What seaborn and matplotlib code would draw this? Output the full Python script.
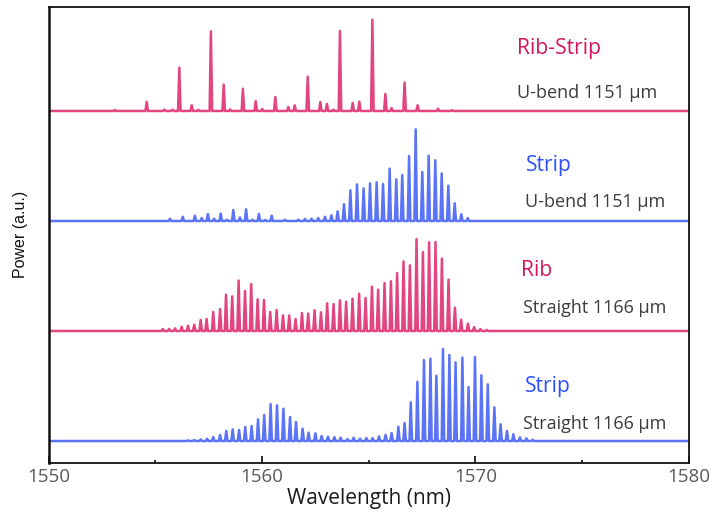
import numpy as np
import pandas as pd
import matplotlib
matplotlib.use("Agg")
import matplotlib.pyplot as plt
import seaborn as sns
from matplotlib.ticker import MultipleLocator

# ---------------- data (peak wavelength in nm, peak power in a.u.) ----------------
rs_wl = [1553.10, 1554.59, 1555.42, 1555.80, 1556.12, 1556.70, 1557.01, 1557.60, 1558.20,
         1558.50, 1559.10, 1559.70, 1560.01, 1560.62, 1561.23, 1561.53, 1562.14, 1562.73,
         1563.04, 1563.35, 1563.65, 1564.25, 1564.56, 1565.17, 1565.78, 1566.07, 1566.68,
         1567.29, 1568.25, 1568.90]
rs_pw = [0.010, 0.082, 0.012, 0.012, 0.394, 0.052, 0.010, 0.724, 0.239,
         0.014, 0.203, 0.091, 0.018, 0.127, 0.036, 0.052, 0.312, 0.082,
         0.064, 0.012, 0.727, 0.073, 0.085, 0.830, 0.155, 0.027, 0.258,
         0.052, 0.021, 0.008]

su_wl = [1555.68, 1556.28, 1556.85, 1557.17, 1557.46, 1557.75, 1558.06, 1558.35, 1558.65,
         1558.96, 1559.25, 1559.55, 1559.85, 1560.15, 1560.45, 1561.07, 1561.70, 1562.01,
         1562.32, 1562.63, 1562.95, 1563.25, 1563.54, 1563.84, 1564.14, 1564.45, 1564.76,
         1565.06, 1565.37, 1565.67, 1565.98, 1566.29, 1566.57, 1566.89, 1567.20, 1567.51,
         1567.81, 1568.12, 1568.42, 1568.73, 1569.03, 1569.34, 1569.64]
su_pw = [0.021, 0.039, 0.048, 0.027, 0.064, 0.021, 0.067, 0.012, 0.100,
         0.033, 0.106, 0.012, 0.064, 0.010, 0.048, 0.012, 0.012, 0.018,
         0.021, 0.027, 0.039, 0.052, 0.088, 0.152, 0.279, 0.333, 0.297,
         0.342, 0.352, 0.336, 0.476, 0.379, 0.418, 0.591, 0.833, 0.445,
         0.594, 0.552, 0.433, 0.321, 0.161, 0.061, 0.027]

rib_wl = [1555.34, 1555.64, 1555.92, 1556.23, 1556.53, 1556.82, 1557.12, 1557.40, 1557.71,
          1558.03, 1558.31, 1558.60, 1558.90, 1559.20, 1559.49, 1559.79, 1560.09, 1560.38,
          1560.68, 1560.98, 1561.27, 1561.57, 1561.87, 1562.16, 1562.46, 1562.76, 1563.05,
          1563.35, 1563.65, 1563.94, 1564.24, 1564.55, 1564.85, 1565.15, 1565.44, 1565.74,
          1566.04, 1566.33, 1566.63, 1566.93, 1567.24, 1567.54, 1567.83, 1568.13, 1568.43,
          1568.74, 1569.04, 1569.33, 1569.65, 1569.94, 1570.24, 1570.54]
rib_pw = [0.018, 0.018, 0.024, 0.039, 0.048, 0.058, 0.100, 0.109, 0.173,
          0.200, 0.330, 0.315, 0.458, 0.364, 0.427, 0.288, 0.282, 0.173,
          0.191, 0.142, 0.142, 0.109, 0.164, 0.158, 0.188, 0.170, 0.252,
          0.245, 0.279, 0.267, 0.294, 0.339, 0.300, 0.403, 0.376, 0.436,
          0.452, 0.527, 0.633, 0.597, 0.836, 0.718, 0.806, 0.809, 0.658,
          0.467, 0.212, 0.103, 0.067, 0.036, 0.018, 0.010]

ss_wl = [1556.54, 1556.82, 1557.12, 1557.42, 1557.71, 1558.03, 1558.32, 1558.62, 1558.92,
         1559.21, 1559.51, 1559.81, 1560.10, 1560.40, 1560.70, 1561.00, 1561.31, 1561.59,
         1561.90, 1562.18, 1562.50, 1562.79, 1563.09, 1563.39, 1563.68, 1564.00, 1564.29,
         1564.59, 1564.89, 1565.18, 1565.48, 1565.79, 1566.07, 1566.39, 1566.68, 1566.97,
         1567.28, 1567.59, 1567.89, 1568.17, 1568.48, 1568.78, 1569.07, 1569.39, 1569.68,
         1569.98, 1570.28, 1570.58, 1570.89, 1571.18, 1571.48, 1571.78, 1572.09, 1572.39,
         1572.68]
ss_pw = [0.006, 0.009, 0.015, 0.021, 0.036, 0.055, 0.091, 0.106, 0.100,
         0.127, 0.136, 0.197, 0.236, 0.336, 0.324, 0.294, 0.218, 0.173,
         0.112, 0.076, 0.070, 0.045, 0.039, 0.036, 0.030, 0.018, 0.030,
         0.021, 0.027, 0.027, 0.042, 0.055, 0.073, 0.130, 0.164, 0.352,
         0.539, 0.736, 0.748, 0.594, 0.836, 0.782, 0.715, 0.758, 0.491,
         0.764, 0.597, 0.515, 0.306, 0.152, 0.091, 0.061, 0.033, 0.024,
         0.012]

names = ["Rib-Strip", "Strip", "Rib", "Strip"]
descs = ["U-bend 1151 \u03bcm", "U-bend 1151 \u03bcm", "Straight 1166 \u03bcm", "Straight 1166 \u03bcm"]
offsets = [3, 2, 1, 0]
x_ticks = [1550, 1560, 1570, 1580]

# ---------------- styling ----------------
PINK = "#e2457f"
BLUE = "#5b74f7"
PINK_T = "#d4145c"
BLUE_T = "#2d50ff"
trace_colors = [PINK, BLUE, PINK, BLUE]
name_colors = [PINK_T, BLUE_T, PINK_T, BLUE_T]

sns.set_theme(style="white")
plt.rcParams["font.family"] = ["Open Sans", "DejaVu Sans"]

fig = plt.figure(figsize=(7.12, 5.19), dpi=100)
ax = fig.add_axes([0.0685, 0.1085, 0.8988, 0.8786])

HALF_W = 0.06  # half width of a comb line (nm)


def build_trace(wl, pw, off):
    xs = [1550.0]
    ys = [off]
    for w, p in sorted(zip(wl, pw)):
        xs += [w - HALF_W, w, w + HALF_W]
        ys += [off, off + p, off]
    xs.append(1580.0)
    ys.append(off)
    return pd.DataFrame({"wl": xs, "pw": ys})


series = [(rs_wl, rs_pw), (su_wl, su_pw), (rib_wl, rib_pw), (ss_wl, ss_pw)]
for (wl, pw), off, col in zip(series, offsets, trace_colors):
    df = build_trace(wl, pw, off)
    sns.lineplot(data=df, x="wl", y="pw", sort=False, estimator=None,
                 color=col, linewidth=1.8, ax=ax)

ax.set_xlim(1550, 1580)
ax.set_ylim(-0.197, 3.948)
ax.set_xticks(x_ticks)
ax.xaxis.set_minor_locator(MultipleLocator(5))
ax.set_yticks([])
ax.tick_params(axis="x", which="major", direction="in", length=5, width=1.3,
               colors="#1a1a1a", labelcolor="#595959", labelsize=13.5, pad=4,
               bottom=True, top=False)
ax.tick_params(axis="x", which="minor", direction="in", length=2.5, width=1.3,
               colors="#1a1a1a", bottom=True, top=False)
for s in ax.spines.values():
    s.set_color("#111111")
    s.set_linewidth(1.3)
ax.spines["left"].set_linewidth(1.8)

ax.set_xlabel("Wavelength (nm)", fontsize=15, color="#1a1a1a", labelpad=1)
ax.set_ylabel("Power (a.u.)", fontsize=11.5, color="#111111",
              family=["Liberation Sans", "DejaVu Sans"], labelpad=15)

name_pos = [(1571.95, 3.564), (1572.37, 2.509), (1572.14, 1.548), (1572.33, 0.50)]
desc_pos = [(1571.95, 3.166), (1572.33, 2.175), (1572.23, 1.209), (1572.23, 0.155)]
for n, d, c, npos, dpos in zip(names, descs, name_colors, name_pos, desc_pos):
    ax.text(npos[0], npos[1], n, color=c, fontsize=15.2, ha="left", va="center")
    ax.text(dpos[0], dpos[1], d, color="#3c3c3c", fontsize=13, ha="left", va="center")

ax.set_facecolor("white")
fig.savefig("out.png", dpi=100, facecolor="white")
